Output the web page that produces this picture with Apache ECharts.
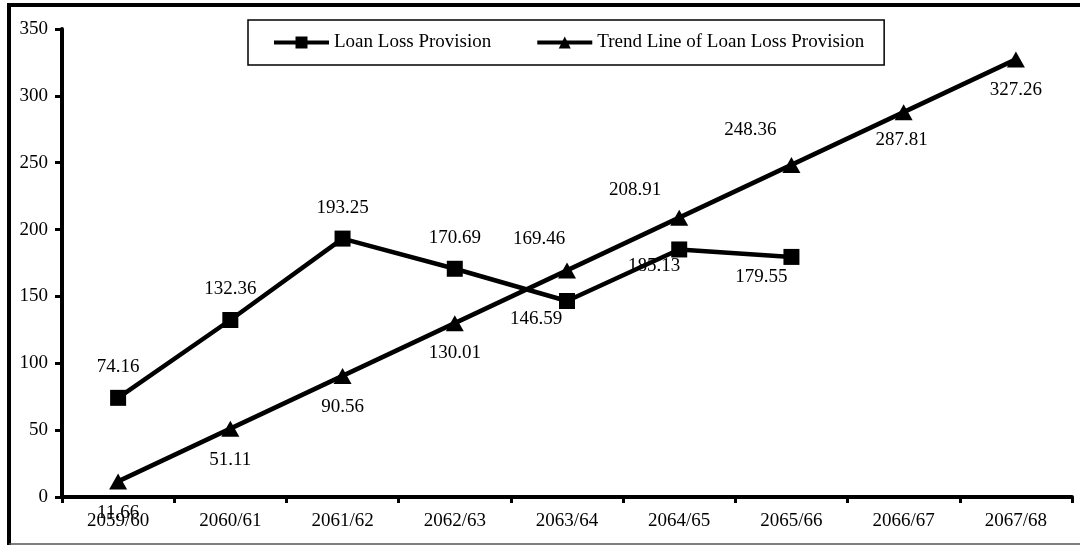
<!DOCTYPE html>
<html>
<head>
<meta charset="utf-8">
<script src="https://cdn.jsdelivr.net/npm/echarts@6/dist/echarts.min.js"></script>
<style>html,body{margin:0;padding:0;background:#fff;}#c{width:1080px;height:545px;}</style>
</head>
<body>
<div id="c"></div>
<script>
const categories = ['2059/60','2060/61','2061/62','2062/63','2063/64','2064/65','2065/66','2066/67','2067/68'];
const loanLossProvision = [74.16, 132.36, 193.25, 170.69, 146.59, 185.13, 179.55];
const trendLine = [11.66, 51.11, 90.56, 130.01, 169.46, 208.91, 248.36, 287.81, 327.26];
const yTicks = [0, 50, 100, 150, 200, 250, 300, 350];

// label placement (offsets from point centre), kept apart from the values
const loanLabelOffsets = [[0,-31],[0,-31],[0,-31],[0,-31],[-31,18],[-25,17],[-30,20]];
const trendLabelOffsets = [[0,32],[0,31],[0,31],[0,30],[-28,-31],[-44,-28],[-41,-35],[-2,28],[0,31]];

const FONT = 'Liberation Serif';
function withLabels(values, offsets) {
  return values.map((v, i) => ({
    value: v,
    label: { offset: offsets[i] }
  }));
}
const labelBase = {
  show: true, position: 'inside', color: '#000', fontFamily: FONT, fontSize: 19,
  formatter: p => p.value.toFixed(2)
};

const chart = echarts.init(document.getElementById('c'));
chart.setOption({
  animation: false,
  backgroundColor: '#fff',
  textStyle: { fontFamily: FONT, color: '#000' },
  grid: { left: 62, right: 8, top: 29, bottom: 48, containLabel: false },
  legend: {
    left: 248, top: 20,
    padding: [13, 20, 13, 24],
    itemWidth: 55, itemHeight: 15, itemGap: 44,
    borderColor: '#000', borderWidth: 1.5,
    lineStyle: { width: 4, color: '#000' },
    textStyle: { fontFamily: FONT, fontSize: 19, color: '#000' },
    data: ['Loan Loss Provision', 'Trend Line of Loan Loss Provision']
  },
  xAxis: {
    type: 'category', data: categories, boundaryGap: true,
    axisLine: { lineStyle: { color: '#000', width: 4 } },
    axisTick: { show: true, length: 6, lineStyle: { color: '#000', width: 3 } },
    axisLabel: { color: '#000', fontFamily: FONT, fontSize: 19, margin: 15, interval: 0 },
    splitLine: { show: false }
  },
  yAxis: {
    type: 'value', min: 0, max: 350, interval: 50,
    axisLine: { show: true, lineStyle: { color: '#000', width: 4 } },
    axisTick: { show: true, length: 7, lineStyle: { color: '#000', width: 3 } },
    axisLabel: { color: '#000', fontFamily: FONT, fontSize: 19, margin: 14,
      formatter: v => yTicks.includes(v) ? String(v) : '' },
    splitLine: { show: false }
  },
  series: [
    {
      name: 'Loan Loss Provision', type: 'line',
      data: withLabels(loanLossProvision, loanLabelOffsets),
      symbol: 'rect', symbolSize: 16,
      lineStyle: { color: '#000', width: 4.5 },
      itemStyle: { color: '#000' },
      label: labelBase
    },
    {
      name: 'Trend Line of Loan Loss Provision', type: 'line',
      data: withLabels(trendLine, trendLabelOffsets),
      symbol: 'triangle', symbolSize: [18, 16],
      lineStyle: { color: '#000', width: 4.5 },
      itemStyle: { color: '#000' },
      label: labelBase
    }
  ],
  graphic: [
    { type: 'line', shape: { x1: 9, y1: 5, x2: 1080, y2: 5 }, style: { stroke: '#000', lineWidth: 4 } },
    { type: 'line', shape: { x1: 9, y1: 3, x2: 9, y2: 545 }, style: { stroke: '#000', lineWidth: 4 } },
    { type: 'line', shape: { x1: 9, y1: 544, x2: 1080, y2: 544 }, style: { stroke: '#555', lineWidth: 1.5 } }
  ]
});
</script>
</body>
</html>
